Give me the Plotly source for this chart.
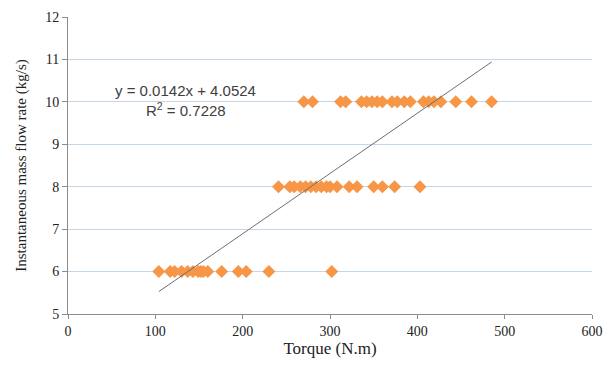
import plotly.graph_objects as go

# Torque (N.m) readings grouped by mass flow rate level
torque_6 = [104, 117, 122, 130, 137, 143, 149, 152, 155, 160, 176, 195, 204, 230, 302]
torque_8 = [241, 254, 259, 266, 272, 278, 284, 290, 296, 300, 308, 322, 331, 350, 360, 374, 403]
torque_10 = [270, 280, 312, 318, 336, 342, 348, 354, 360, 371, 377, 385, 392, 407, 413, 419, 427, 444, 462, 485]
flow_levels = [6, 8, 10]

slope = 0.0142
intercept = 4.0524
r2 = 0.7228

xs = torque_6 + torque_8 + torque_10
ys = [flow_levels[0]] * len(torque_6) + [flow_levels[1]] * len(torque_8) + [flow_levels[2]] * len(torque_10)

x_line = [min(xs), max(xs)]
y_line = [slope * v + intercept for v in x_line]

fig = go.Figure()
fig.add_trace(go.Scatter(x=xs, y=ys, mode="markers",
                         marker=dict(symbol="diamond", size=10, color="#f79646"),
                         showlegend=False))
fig.add_trace(go.Scatter(x=x_line, y=y_line, mode="lines",
                         line=dict(color="#6e6e6e", width=1),
                         showlegend=False))

fig.add_annotation(x=135, y=10.27, xref="x", yref="y", showarrow=False,
                   text=f"y = {slope}x + {intercept}",
                   font=dict(family="Liberation Sans", size=15, color="#404040"))
fig.add_annotation(x=135, y=9.83, xref="x", yref="y", showarrow=False,
                   text=f"R<sup>2</sup> = {r2}",
                   font=dict(family="Liberation Sans", size=15, color="#404040"))

fig.update_layout(
    width=603, height=369,
    margin=dict(l=68, r=11, t=17, b=55),
    paper_bgcolor="white", plot_bgcolor="white",
    font=dict(family="Liberation Serif", size=14, color="#222222"),
    xaxis=dict(range=[0, 600], tickvals=[0, 100, 200, 300, 400, 500, 600],
               showgrid=False, zeroline=False, showline=True, linecolor="#8c8c8c",
               ticks="outside", ticklen=4, tickcolor="#8c8c8c", automargin=False,
               title=dict(text="Torque (N.m)", font=dict(size=17), standoff=4)),
    yaxis=dict(range=[5, 12], tickvals=[5, 6, 7, 8, 9, 10, 11, 12],
               showgrid=True, gridcolor="#c5d5ea", gridwidth=1, zeroline=False,
               showline=True, linecolor="#8c8c8c",
               ticks="outside", ticklen=5, tickcolor="#8c8c8c", automargin=False,
               title=dict(text="Instantaneous mass flow rate (kg/s)", font=dict(size=15), standoff=14)),
)

fig.write_html("out.html")
